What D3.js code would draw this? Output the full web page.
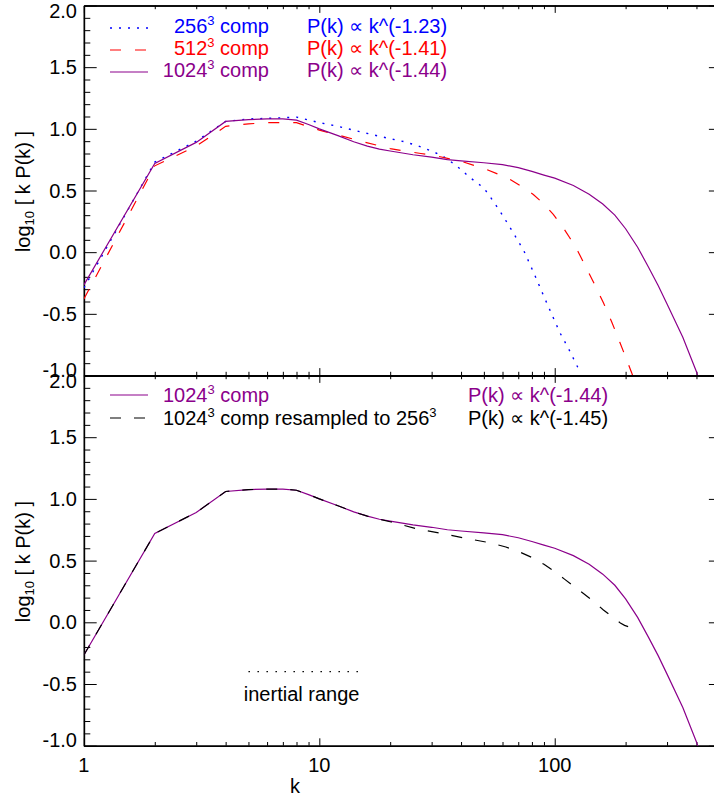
<!DOCTYPE html>
<html><head><meta charset="utf-8">
<script src="https://cdn.jsdelivr.net/npm/d3@7/dist/d3.min.js"></script>
<style>
body{margin:0;background:#fff}
text{font-family:"Liberation Sans",Arial,Helvetica,sans-serif}
</style>
</head><body>
<svg id="chart" width="714" height="799"></svg>
<script>
// ---------------- data ----------------
const kMajorTicks = [1, 10, 100];
const kMajorLabels = ["1", "10", "100"];
const kMinorTicks = [2,3,4,5,6,7,8,9,20,30,40,50,60,70,80,90,200,300,400,500];
const yMajorTicks = [-1, -0.5, 0, 0.5, 1, 1.5, 2];
const yMajorLabels = ["-1.0", "-0.5", "0.0", "0.5", "1.0", "1.5", "2.0"];
const yMinorTicks = [-0.9,-0.8,-0.7,-0.6,-0.4,-0.3,-0.2,-0.1,0.1,0.2,0.3,0.4,0.6,0.7,0.8,0.9,1.1,1.2,1.3,1.4,1.6,1.7,1.8,1.9];

// 256^3 comp
const k256 = [1,2,3,4,5,6,7,8,10,12,15,18,20,23,26,30,33,35,40,43,50,55,60,67,74,82,90,98,105,115,128];
const v256 = [-0.29,0.73,0.90,1.06,1.08,1.085,1.09,1.095,1.05,1.02,0.975,0.94,0.92,0.895,0.865,0.82,0.785,0.755,0.67,0.615,0.52,0.41,0.30,0.15,0.01,-0.18,-0.36,-0.52,-0.65,-0.79,-0.97];

// 512^3 comp
const k512 = [1,2,3,4,5,6,7,8,10,12,15,20,23,27,31.5,40,46,51.4,58,64.6,72,81.1,90,98.6,107,116,126,136.8,148,161,175,189,200,212,216];
const v512 = [-0.38,0.70,0.86,1.02,1.04,1.05,1.05,1.05,0.99,0.95,0.90,0.84,0.82,0.80,0.78,0.737,0.70,0.67,0.63,0.589,0.535,0.468,0.39,0.306,0.217,0.115,0.0,-0.135,-0.265,-0.41,-0.57,-0.73,-0.85,-0.975,-1.02];

// 1024^3 comp
const k1024 = [1,2,3,4,5,6,7,8,9,10,12,14,16,18,20,25,30,35,40,50,60,70,80,90,100,120,140,160,180,200,225,250,275,300,350,400,420];
const v1024 = [-0.265,0.72,0.89,1.06,1.075,1.08,1.08,1.07,1.035,1.0,0.945,0.895,0.86,0.835,0.82,0.79,0.77,0.75,0.74,0.725,0.71,0.685,0.655,0.625,0.60,0.54,0.47,0.39,0.30,0.19,0.04,-0.12,-0.27,-0.42,-0.69,-0.97,-1.1];

// 1024^3 comp resampled to 256^3
const kRes = [1,2,3,4,5,6,7,8,9,10,12,14,16,18,20,26,33,42,53,62,70,80,90,100,110,120,132,146,161,178,190,198,205];
const vRes = [-0.265,0.72,0.89,1.06,1.075,1.08,1.08,1.07,1.035,1.0,0.945,0.895,0.86,0.835,0.815,0.757,0.72,0.68,0.645,0.61,0.575,0.525,0.47,0.41,0.35,0.295,0.235,0.17,0.10,0.035,-0.005,-0.025,-0.035];

// inertial range marker
const kInertial = [5, 15];
const vInertial = [-0.4, -0.4];

const topLegend = [
  {num:"256", sup:"3", fit:"P(k) \u221D k^(-1.23)", color:"#0000ff", dash:"2,7"},
  {num:"512", sup:"3", fit:"P(k) \u221D k^(-1.41)", color:"#ff0000", dash:"11,14"},
  {num:"1024", sup:"3", fit:"P(k) \u221D k^(-1.44)", color:"#8b008b", dash:null}
];

// ---------------- layout ----------------
const svg = d3.select("#chart");
const X0 = 83.9, X1 = 721.7;
const x = d3.scaleLog().domain([1, 512]).range([X0, X1]);
const panels = [
  {top: 5.5, bottom: 375.5},
  {top: 375.5, bottom: 745.7}
];
panels.forEach(p => p.y = d3.scaleLinear().domain([-1, 2]).range([p.bottom, p.top]));

const purple = "#8b008b";

panels.forEach((p, i) => {
  const g = svg.append("g");
  const clipId = "clip" + i;
  svg.append("clipPath").attr("id", clipId).append("rect")
    .attr("x", X0).attr("y", p.top).attr("width", X1 - X0).attr("height", p.bottom - p.top);

  const axG = g.append("g").attr("class", "axes");
  const styleAxis = sel => {
    sel.selectAll(".domain").attr("stroke", "#000").attr("stroke-width", 1.4);
    sel.selectAll(".tick line").attr("stroke", "#000").attr("stroke-width", 1);
    sel.selectAll(".tick text").remove();
  };
  // bottom & top axes (major + minor)
  [[d3.axisBottom, p.bottom, -7.4, -3.7], [d3.axisTop, p.top, -7.4, -3.7]].forEach(([fn, yy, maj, mn]) => {
    axG.append("g").attr("transform", `translate(0,${yy})`)
      .call(fn(x).tickValues(kMajorTicks).tickSize(maj).tickSizeOuter(0).tickFormat(""))
      .call(styleAxis);
    axG.append("g").attr("transform", `translate(0,${yy})`)
      .call(fn(x).tickValues(kMinorTicks).tickSize(mn).tickSizeOuter(0).tickFormat(""))
      .call(styleAxis);
  });
  [[d3.axisLeft, X0], [d3.axisRight, X1]].forEach(([fn, xx]) => {
    axG.append("g").attr("transform", `translate(${xx},0)`)
      .call(fn(p.y).tickValues(yMajorTicks).tickSize(-12.8).tickSizeOuter(0).tickFormat(""))
      .call(styleAxis);
    axG.append("g").attr("transform", `translate(${xx},0)`)
      .call(fn(p.y).tickValues(yMinorTicks).tickSize(-6.4).tickSizeOuter(0).tickFormat(""))
      .call(styleAxis);
  });

  // y tick labels
  g.selectAll(".ylab").data(yMajorTicks).enter().append("text")
    .attr("x", 77).attr("text-anchor", "end")
    .attr("y", (d) => {
      let yy = p.y(d) + 7;
      if (d === 2) yy += 5.5;
      if (d === -1) yy -= 5.5;
      return yy;
    })
    .attr("font-size", 20).attr("fill", "#000")
    .text((d, j) => yMajorLabels[j]);

  // y title
  const cy = (p.top + p.bottom) / 2 + 1;
  const yt = g.append("text")
    .attr("transform", `translate(30,${cy}) rotate(-90)`)
    .attr("text-anchor", "middle").attr("font-size", 20).attr("fill", "#000");
  yt.append("tspan").text("log");
  yt.append("tspan").attr("font-size", 13).attr("dy", 4).text("10");
  yt.append("tspan").attr("dy", -4).text(" [ k P(k) ]");

  p.g = g; p.clip = clipId;
});

const lineGen = (yScale) => d3.line().x(d => x(d[0])).y(d => yScale(d[1]));

function drawSeries(p, ks, vs, color, dash, width) {
  const pts = ks.map((k, i) => [k, vs[i]]);
  p.g.append("path")
    .attr("clip-path", `url(#${p.clip})`)
    .attr("d", lineGen(p.y)(pts))
    .attr("fill", "none").attr("stroke", color).attr("stroke-width", width || 1.2)
    .attr("stroke-dasharray", dash);
}

// top panel curves
drawSeries(panels[0], k256, v256, "#0000ff", "2,7", 1.4);
drawSeries(panels[0], k512, v512, "#ff0000", "11,14", 1.2);
drawSeries(panels[0], k1024, v1024, purple, null, 1.2);

// bottom panel curves
drawSeries(panels[1], k1024, v1024, purple, null, 1.2);
drawSeries(panels[1], kRes, vRes, "#000000", "11,13", 1.2);
drawSeries(panels[1], kInertial, vInertial, "#000000", "1.5,7.5", 1.2);

svg.append("text").attr("x", x(Math.sqrt(kInertial[0]*kInertial[1])) - 3).attr("y", panels[1].y(vInertial[0]) + 29)
  .attr("text-anchor", "middle").attr("font-size", 20).text("inertial range");

// top legend
const legY = [28, 50, 72];
topLegend.forEach((d, i) => {
  svg.append("line").attr("x1", 110).attr("x2", 148).attr("y1", legY[i]).attr("y2", legY[i])
    .attr("stroke", d.color).attr("stroke-width", d.dash === "2,7" ? 1.4 : 1.2).attr("stroke-dasharray", d.dash);
  const t = svg.append("text").attr("x", 269).attr("y", legY[i] + 5).attr("text-anchor", "end")
    .attr("font-size", 20).attr("fill", d.color);
  t.append("tspan").text(d.num);
  t.append("tspan").attr("font-size", 13).attr("dy", -8).text(d.sup);
  t.append("tspan").attr("dy", 8).text(" comp");
  svg.append("text").attr("x", 307).attr("y", legY[i] + 5).attr("font-size", 20).attr("fill", d.color).text(d.fit);
});

// bottom legend
const botLegend = [
  {parts:[["1024",20,0],["3",13,-8],[" comp",20,8]], fit:"P(k) \u221D k^(-1.44)", color: purple, dash:null},
  {parts:[["1024",20,0],["3",13,-8],[" comp resampled to 256",20,8],["3",13,-8]], fit:"P(k) \u221D k^(-1.45)", color:"#000000", dash:"11,13"}
];
const legY2 = [395, 418];
botLegend.forEach((d, i) => {
  svg.append("line").attr("x1", 110).attr("x2", 148).attr("y1", legY2[i]).attr("y2", legY2[i])
    .attr("stroke", d.color).attr("stroke-width", 1.2).attr("stroke-dasharray", d.dash);
  const t = svg.append("text").attr("x", 163).attr("y", legY2[i] + 7).attr("font-size", 20).attr("fill", d.color);
  d.parts.forEach(([s, fs, dy]) => t.append("tspan").attr("font-size", fs).attr("dy", dy).text(s));
  svg.append("text").attr("x", 468).attr("y", legY2[i] + 7).attr("font-size", 20).attr("fill", d.color).text(d.fit);
});

// x tick labels (bottom panel only)
svg.selectAll(".xlab").data(kMajorTicks).enter().append("text")
  .attr("x", d => x(d)).attr("y", 772).attr("text-anchor", "middle").attr("font-size", 20)
  .text((d, i) => kMajorLabels[i]);
svg.append("text").attr("x", 295).attr("y", 793).attr("text-anchor", "middle").attr("font-size", 20).text("k");
</script>
</body></html>
